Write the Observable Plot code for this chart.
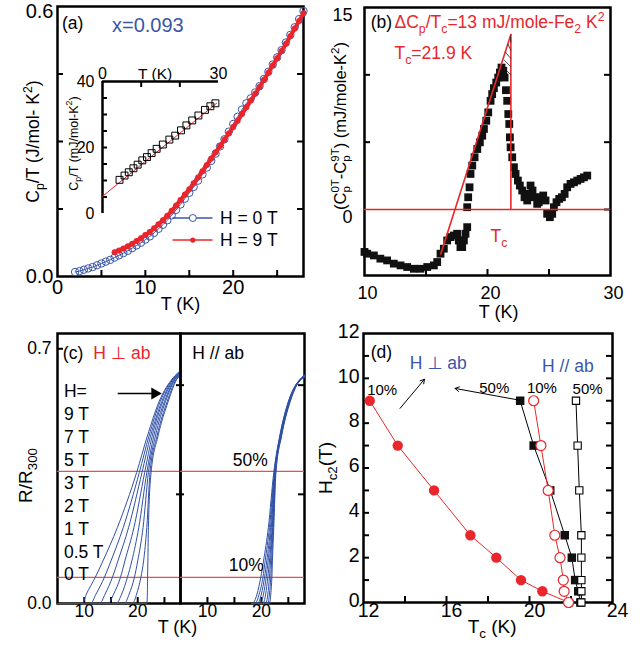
<!DOCTYPE html>
<html><head><meta charset="utf-8">
<script src="https://cdn.jsdelivr.net/npm/d3@7"></script>
<script src="https://cdn.jsdelivr.net/npm/@observablehq/plot@0.6"></script>
<style>
body{margin:0;background:#fff}
#fig{position:relative;width:643px;height:647px;overflow:hidden;background:#fff}
</style>
</head><body><div id="fig"></div>
<script>
// ---------------- DATA ----------------
// (a) C/T vs T, H = 0 T and H = 9 T
const aFields = [0, 9];
const aT0 = [2,2.5,3,3.5,4,4.5,5,5.5,6,6.5,7,7.5,8,8.5,9,9.5,10,10.5,11,11.5,12,12.5,13,13.5,14,14.5,15,15.5,16,16.5,17,17.5,18,18.5,19,19.5,20,20.5,21,21.5,22,22.5,23,23.5,24,24.5,25,25.5,26,26.5,27,27.5,28];
const aC0 = [0.010,0.012,0.015,0.018,0.021,0.025,0.029,0.033,0.037,0.042,0.047,0.052,0.057,0.063,0.069,0.075,0.082,0.089,0.097,0.106,0.115,0.125,0.136,0.148,0.160,0.173,0.186,0.199,0.213,0.227,0.242,0.257,0.273,0.289,0.305,0.322,0.339,0.355,0.371,0.385,0.396,0.409,0.423,0.439,0.455,0.471,0.487,0.503,0.520,0.537,0.554,0.572,0.590];
const aT9 = [6.5,7,7.5,8,8.5,9,9.5,10,10.5,11,11.5,12,12.5,13,13.5,14,14.5,15,15.5,16,16.5,17,17.5,18,18.5,19,19.5,20,20.5,21,21.5,22,22.5,23,23.5,24,24.5,25,25.5,26,26.5,27,27.5,28];
const aC9 = [0.054,0.058,0.062,0.067,0.073,0.079,0.085,0.092,0.099,0.107,0.116,0.125,0.135,0.146,0.158,0.170,0.182,0.194,0.207,0.220,0.234,0.248,0.262,0.276,0.290,0.304,0.318,0.332,0.346,0.361,0.376,0.391,0.406,0.421,0.437,0.453,0.469,0.485,0.501,0.517,0.534,0.551,0.568,0.585];
const aXTicks = [0, 10, 20];
const aYTicks = [0.0, 0.6];
// inset of (a): C/T in mJ/mol-K^2
const inT = [4.4,5.7,6.8,8.0,9.1,10.3,11.5,12.7,14.0,15.6,17.3,18.8,20.3,21.7,23.2,24.8,26.5,27.9,29.2];
const inC = [10.2,11.5,12.5,13.7,14.8,16.1,17.1,18.3,19.6,20.9,22.4,23.6,25.2,26.7,28.2,29.7,31.4,32.5,33.4];
const inFitT = [0, 29.5];
const inFitC = [5.2, 33.4];
const inXTicks = [0, 30];
const inYTicks = [0, 20, 40];

// (b) C(0T)-C(9T)
const bT = [10.0,10.22,10.76,11.29,11.84,12.38,12.93,13.47,14.01,14.55,15.10,15.64,15.91,16.18,16.45,16.72,16.99,17.26,17.53,17.67,17.80,17.94,18.08,18.21,18.35,18.35,18.43,18.54,18.62,18.76,18.95,19.17,19.38,19.57,19.71,19.90,20.06,20.25,20.38,20.52,20.71,20.87,21.01,21.14,21.28,21.39,21.50,21.60,21.69,21.77,21.82,21.88,22.01,22.15,22.28,22.47,22.63,22.82,23.01,23.23,23.36,23.50,23.66,23.82,24.04,24.17,24.31,24.53,24.72,24.85,25.07,25.26,25.40,25.61,25.83,26.05,26.27,26.48,26.75,27.03,27.30,27.57,27.84,28.11];
const bV = [-3.15,-3.28,-3.41,-3.65,-3.78,-4.02,-4.15,-4.27,-4.40,-4.40,-4.27,-4.15,-3.90,-3.28,-2.91,-2.30,-2.05,-1.93,-1.80,-2.30,-2.79,-2.79,-2.30,-1.80,-1.31,0.17,0.91,1.65,2.64,3.26,3.88,4.49,4.99,5.48,5.98,6.59,7.21,8.07,8.57,9.01,9.43,9.80,10.17,10.54,10.30,9.80,8.86,8.07,7.09,6.35,5.36,4.62,3.88,3.14,2.64,2.15,1.78,1.41,0.91,0.67,1.16,1.78,1.41,0.91,0.42,0.54,0.91,1.04,0.67,-0.32,-0.57,-0.32,0.17,0.54,0.79,0.91,1.16,1.65,1.90,2.02,2.15,2.27,2.39,2.52];
const bTc = 21.9;
const bJump = 13.0;
const bSlantT = [16.2, 21.9];
const bSlantV = [-3.3, 13.0];
const bHatch = [12.4, 11.8, 11.2, 10.6, 10.0];
const bXTicks = [10, 20, 30];
const bYTicks = [0, 15];

// (c) R/R300 vs T
const cFields = ["9 T","7 T","5 T","3 T","2 T","1 T","0.5 T","0 T"];
const cR = [0, 0, 0.026, 0.073, 0.117, 0.209, 0.36, 0.46, 0.555, 0.62];
const cPerpT = [
  [5, 9.6, 10.4, 12.1, 13.5, 16.2, 19.8, 21.8, 24.0, 26.6],
  [5, 11.2, 12.2, 13.8, 15.0, 17.3, 20.3, 22.1, 24.2, 26.7],
  [5, 12.9, 13.9, 15.3, 16.3, 18.3, 20.8, 22.4, 24.5, 26.8],
  [5, 14.5, 15.5, 16.8, 17.6, 19.3, 21.3, 22.7, 24.7, 27.0],
  [5, 16.0, 17.0, 18.1, 18.9, 20.2, 21.7, 23.0, 25.0, 27.1],
  [5, 17.5, 18.4, 19.4, 20.0, 21.0, 22.0, 23.3, 25.2, 27.2],
  [5, 19.0, 19.8, 20.6, 21.1, 21.7, 22.3, 23.6, 25.5, 27.4],
  [5, 21.7, 21.8, 21.85, 21.9, 22.0, 22.5, 23.8, 25.7, 27.5]
];
const cPerpEnd = [0.64, 0.638, 0.636, 0.634, 0.632, 0.63, 0.628, 0.626];
const cParT = [
  [18.2, 18.3, 19.2, 19.9, 20.4, 21.3, 22.3, 23.4, 25.0, 27.4],
  [18.2, 18.8, 19.6, 20.3, 20.7, 21.5, 22.4, 23.45, 25.05, 27.45],
  [18.2, 19.3, 20.0, 20.6, 21.0, 21.7, 22.45, 23.5, 25.1, 27.5],
  [18.2, 19.8, 20.4, 20.9, 21.25, 21.85, 22.5, 23.55, 25.15, 27.55],
  [18.2, 20.3, 20.8, 21.2, 21.5, 22.0, 22.55, 23.6, 25.2, 27.6],
  [18.2, 20.8, 21.2, 21.5, 21.7, 22.1, 22.6, 23.65, 25.25, 27.65],
  [18.2, 21.2, 21.5, 21.75, 21.9, 22.2, 22.65, 23.7, 25.3, 27.7],
  [18.2, 21.5, 21.75, 21.95, 22.05, 22.3, 22.7, 23.75, 25.35, 27.75]
];
const cParEnd = [0.628, 0.627, 0.626, 0.625, 0.624, 0.623, 0.622, 0.621];
const cEndT = 28;
const cCriteria = [0.363, 0.072];
const cXTicks = [10, 20];
const cYTicks = [0.0, 0.7];

// (d) Hc2 vs Tc
const dH = [9, 7, 5, 3, 2, 1, 0.5, 0];
const dPerp10 = [12.3, 13.65, 15.4, 17.15, 18.4, 19.59, 20.62, 21.9];
const dPerp50 = [19.55, 20.2, 21.0, 21.7, 22.04, 22.2, 22.35, 22.45];
const dPar10 = [20.2, 20.55, 20.9, 21.22, 21.47, 21.63, 21.67, 21.88];
const dPar50 = [22.24, 22.32, 22.4, 22.5, 22.5, 22.5, 22.5, 22.5];
const dXTicks = [12, 16, 20, 24];
const dYTicks = [0, 2, 4, 6, 8, 10, 12];

// ---------------- DRAWING ----------------
const FONT = "'Liberation Sans', Arial, 'DejaVu Sans', sans-serif";
const RED = "#e8262b", BLUE = "#3a56a8", CBLUE = "#2f50a6", LRED = "#f04c4c", INK = "#111";
const fig = document.getElementById("fig");

function rich(svg) {
  const NS = "http://www.w3.org/2000/svg";
  svg.querySelectorAll("text").forEach(t => {
    const s = t.textContent;
    if (!/[_^]\{/.test(s)) return;
    let F = 16, el = t;
    while (el && el.getAttribute) { const fs = el.getAttribute("font-size"); if (fs) { F = parseFloat(fs); break; } el = el.parentNode; }
    while (t.firstChild) t.removeChild(t.firstChild);
    const re = /([_^])\{([^}]*)\}|([^_^]+)/g;
    let m, cur = 0, prevKind = null, prevEl = null;
    while ((m = re.exec(s))) {
      const ts = document.createElementNS(NS, "tspan");
      let target = 0, txt;
      if (m[1]) { txt = m[2]; target = m[1] === "_" ? 0.28 * F : -0.42 * F; ts.setAttribute("font-size", (0.7 * F).toFixed(1)); }
      else txt = m[3];
      const d = target - cur;
      if (Math.abs(d) > 1e-6) ts.setAttribute("dy", d.toFixed(2));
      cur = target;
      ts.textContent = txt;
      t.appendChild(ts);
      if (m[1] === "^" && prevKind === "_") {
        const w = prevEl.getComputedTextLength();
        if (w > 0 && w < F) ts.setAttribute("dx", (-w).toFixed(2));
      }
      prevKind = m[1] || "n"; prevEl = ts;
    }
  });
}
function panel(o) {
  const svg = Plot.plot({
    width: o.width, height: o.height,
    marginLeft: o.mL, marginRight: o.mR, marginTop: o.mT, marginBottom: o.mB,
    x: {domain: o.xd, axis: null}, y: {domain: o.yd, axis: null},
    style: {fontFamily: FONT, background: "transparent", overflow: "visible", color: "black"},
    marks: o.marks
  });
  svg.style.position = "absolute"; svg.style.left = o.left + "px"; svg.style.top = o.top + "px";
  fig.appendChild(svg);
  rich(svg);
  return svg;
}
const TW = 2;
const tB = (v, fh, L = 6) => Plot.ruleX(v, {x: d => d, insetTop: fh - L, stroke: "black", strokeWidth: TW});
const tT = (v, fh, L = 6) => Plot.ruleX(v, {x: d => d, insetBottom: fh - L, stroke: "black", strokeWidth: TW});
const tL = (v, fw, L = 6) => Plot.ruleY(v, {y: d => d, insetRight: fw - L, stroke: "black", strokeWidth: TW});
const tR = (v, fw, L = 6) => Plot.ruleY(v, {y: d => d, insetLeft: fw - L, stroke: "black", strokeWidth: TW});
const frame = () => Plot.frame({stroke: "black", strokeWidth: 2.5});
const T = d => d;

// ---- (a) ----
const a0 = aT0.map((t, i) => ({T: t, C: aC0[i]}));
const a9 = aT9.map((t, i) => ({T: t, C: aC9[i]}));
panel({left: 0, top: 0, width: 320, height: 320, mL: 57, mR: 17, mT: 6, mB: 44, xd: [0, 28], yd: [0, 0.6], marks: [
  frame(),
  tB([5, 10, 15, 20, 25], 270), tL([0.15, 0.3, 0.45], 246), tR([0.15, 0.3, 0.45], 246),
  Plot.text(aXTicks, {x: d => d, text: d => String(d), frameAnchor: "bottom", dy: 17, fontSize: 20}),
  Plot.text([aYTicks[0]], {y: d => d, text: d => d.toFixed(1), frameAnchor: "left", textAnchor: "end", dx: -4, fontSize: 20}),
  Plot.text([aYTicks[1]], {y: d => d, text: d => d.toFixed(1), frameAnchor: "left", textAnchor: "end", dx: -4, dy: 5, fontSize: 20}),
  Plot.text(["T (K)"], {text: T, frameAnchor: "bottom", dy: 33, fontSize: 18}),
  Plot.text(["C_{p}/T (J/mol- K^{2})"], {text: T, frameAnchor: "left", textAnchor: "middle", dx: -24, rotate: -90, fontSize: 17.5}),
  Plot.line(a0, {x: "T", y: "C", stroke: BLUE, strokeWidth: 1}),
  Plot.dot(a0, {x: "T", y: "C", r: 3.7, stroke: BLUE, strokeWidth: 1, fill: "none"}),
  Plot.line(a9, {x: "T", y: "C", stroke: RED, strokeWidth: 4}),
  Plot.dot(a9, {x: "T", y: "C", r: 3, fill: RED}),
  Plot.ruleY([0.130], {x1: 13.15, x2: 17.7, stroke: BLUE, strokeWidth: 1.3}),
  Plot.dot([0], {x: 15.4, y: 0.130, r: 3.5, stroke: BLUE, fill: "white", strokeWidth: 1}),
  Plot.ruleY([0.081], {x1: 13.15, x2: 17.7, stroke: RED, strokeWidth: 1.6}),
  Plot.dot([0], {x: 15.4, y: 0.081, r: 2.6, fill: RED}),
  Plot.text([aFields[0]], {x: 18.5, y: 0.130, text: d => `H = ${d} T`, textAnchor: "start", fontSize: 17.5}),
  Plot.text([aFields[1]], {x: 18.5, y: 0.081, text: d => `H = ${d} T`, textAnchor: "start", fontSize: 17.5}),
  Plot.text(["(a)"], {x: 0.5, y: 0.563, text: T, textAnchor: "start", fontSize: 17.5}),
  Plot.text(["x=0.093"], {x: 6.2, y: 0.557, text: T, textAnchor: "start", fontSize: 20, fill: BLUE})
]});
// inset
const ins = inT.map((t, i) => ({T: t, C: inC[i]}));
const insFit = inFitT.map((t, i) => ({T: t, C: inFitC[i]}));
panel({left: 0, top: 0, width: 320, height: 320, mL: 102, mR: 102, mT: 81, mB: 107, xd: [0, 30], yd: [0, 40], marks: [
  Plot.ruleX([0], {stroke: "black", strokeWidth: 2.5}),
  Plot.ruleY([40], {stroke: "black", strokeWidth: 2.5}),
  tT([10, 20], 132, 6), tL([5, 10, 15, 20, 25, 30, 35], 116, 5),
  Plot.text(inXTicks, {x: d => d, text: d => String(d), frameAnchor: "top", dy: -14, fontSize: 16}),
  Plot.text(["T (K)"], {x: 13.6, text: T, frameAnchor: "top", dy: -14, fontSize: 15.5}),
  Plot.text(inYTicks, {y: d => d, text: d => String(d), frameAnchor: "left", textAnchor: "end", dx: -8, fontSize: 16}),
  Plot.text(["C_{p}/T (mJ/mol-K^{2})"], {text: T, frameAnchor: "left", textAnchor: "middle", dx: -29, dy: -4, rotate: -90, fontSize: 12.5}),
  Plot.line(insFit, {x: "T", y: "C", stroke: RED, strokeWidth: 1}),
  Plot.dot(ins, {x: "T", y: "C", symbol: "square", r: 3.9, stroke: "black", strokeWidth: 1, fill: "none"})
]});

// ---- (b) ----
const bData = bT.map((t, i) => ({T: t, v: bV[i]}));
const bSlant = bSlantT.map((t, i) => ({T: t, v: bSlantV[i]}));
const slantAt = v => bSlantT[0] + (v - bSlantV[0]) * (bSlantT[1] - bSlantT[0]) / (bSlantV[1] - bSlantV[0]);
panel({left: 320, top: 0, width: 323, height: 320, mL: 44, mR: 33, mT: 7, mB: 45, xd: [10, 30], yd: [-4.9, 15], marks: [
  frame(),
  tB([15, 20, 25], 268), tL([5, 10], 246), tR([0, 5, 10], 246),
  Plot.text(bXTicks, {x: d => d, text: d => String(d), frameAnchor: "bottom", dy: 23, dx: 3, fontSize: 18}),
  Plot.text(bYTicks, {y: d => d, text: d => String(d), frameAnchor: "left", textAnchor: "end", dx: -12, dy: 8, fontSize: 18}),
  Plot.text(["T (K)"], {x: 20.9, text: T, frameAnchor: "bottom", dy: 42, fontSize: 18}),
  Plot.text(["(C_{p}^{0T}-C_{p}^{9T}) (mJ/mole-K^{2})"], {y: 6.2, text: T, frameAnchor: "left", textAnchor: "middle", dx: -24, rotate: -90, fontSize: 16.5}),
  Plot.dot(bData, {x: "T", y: "v", symbol: "square", r: 4.4, fill: INK}),
  Plot.ruleY([0], {stroke: RED, strokeWidth: 1.5}),
  Plot.line(bSlant, {x: "T", y: "v", stroke: RED, strokeWidth: 1.6}),
  Plot.ruleX([bTc], {y1: 0, y2: bJump, stroke: RED, strokeWidth: 1.6}),
  Plot.link(bHatch, {x1: h => Math.max(slantAt(h + 0.5), 21.35), y1: h => h + 0.5, x2: bTc, y2: h => h, stroke: "#222", strokeWidth: 0.8}),
  Plot.text(["(b)"], {x: 10.5, y: 13.87, text: T, textAnchor: "start", fontSize: 17.5}),
  Plot.text([bJump], {x: 12.44, y: 13.87, text: d => `ΔC_{p}/T_{c}=${d} mJ/mole-Fe_{2} K^{2}`, textAnchor: "start", fontSize: 17.5, fill: RED}),
  Plot.text([bTc], {x: 12.44, y: 11.6, text: d => `T_{c}=${d} K`, textAnchor: "start", fontSize: 17.5, fill: RED}),
  Plot.text(["T_{c}"], {x: 20.24, y: -2.0, text: T, textAnchor: "start", fontSize: 17.5, fill: RED})
]});

// ---- (c) ----
const cPerp = [], cPar = [];
cFields.forEach((f, i) => {
  cPerpT[i].forEach((t, j) => cPerp.push({f, T: t, R: cR[j]}));
  cPerp.push({f, T: cEndT, R: cPerpEnd[i]});
  cParT[i].forEach((t, j) => cPar.push({f, T: t, R: cR[j]}));
  cPar.push({f, T: cEndT, R: cParEnd[i]});
});
const cCommon = {width: 320, height: 327, mT: 13, mB: 44, xd: [5, 28], yd: [0, 0.742], left: 0, top: 320};
panel({...cCommon, mL: 57, mR: 140, marks: [
  frame(),
  tB([10, 15, 20, 25], 270), tL([0.7], 123), tR([0.3, 0.6], 123, 4),
  Plot.text(cXTicks, {x: d => d, text: d => String(d), frameAnchor: "bottom", dy: 13, fontSize: 17.5}),
  Plot.text(cYTicks, {y: d => d, text: d => d.toFixed(1), frameAnchor: "left", textAnchor: "end", dx: -6, fontSize: 17.5}),
  Plot.text(["T (K)"], {text: T, frameAnchor: "bottom-right", textAnchor: "middle", dx: -3, dy: 29, fontSize: 18}),
  Plot.text(["R/R_{300}"], {text: T, frameAnchor: "left", textAnchor: "middle", dx: -32, dy: 7, rotate: -90, fontSize: 19}),
  Plot.ruleY(cCriteria, {stroke: LRED, strokeWidth: 1.2}),
  Plot.line(cPerp, {x: "T", y: "R", z: "f", stroke: CBLUE, strokeWidth: 1, curve: "monotone-x"}),
  Plot.text(["(c)"], {x: 6.0, y: 0.687, text: T, textAnchor: "start", fontSize: 17.5}),
  Plot.text(["H ⊥ ab"], {x: 11.7, y: 0.687, text: T, textAnchor: "start", fontSize: 17.5, fill: RED}),
  Plot.text([cFields], {x: 6.2, y: 0.612, text: d => "H=\n" + d.join("\n"), textAnchor: "start", lineAnchor: "top", lineHeight: 1.31, fontSize: 17.5}),
  Plot.ruleY([0.577], {x1: 16.35, x2: 22.8, stroke: "black", strokeWidth: 1.5}),
  Plot.dot([0.577], {x: 23.2, y: d => d, symbol: "triangle", rotate: 90, r: 4.5, fill: "black"})
]});
panel({...cCommon, mL: 180, mR: 16, marks: [
  frame(),
  tB([10, 15, 20, 25], 270), tL([0.3, 0.6], 124, 4), tR([0.3, 0.6], 124),
  Plot.text(cXTicks, {x: d => d, text: d => String(d), frameAnchor: "bottom", dy: 13, fontSize: 17.5}),
  Plot.ruleY(cCriteria, {stroke: LRED, strokeWidth: 1.2}),
  Plot.line(cPar, {x: "T", y: "R", z: "f", stroke: CBLUE, strokeWidth: 1, curve: "monotone-x"}),
  Plot.text(["H // ab"], {x: 7.2, y: 0.687, text: T, textAnchor: "start", fontSize: 17.5}),
  Plot.text(["50%"], {x: 17.96, y: 0.393, text: T, fontSize: 17.5}),
  Plot.text(["10%"], {x: 17.2, y: 0.104, text: T, fontSize: 17.5})
]});

// ---- (d) ----
const dRow = arr => arr.map((t, i) => ({T: t, H: dH[i]}));
const dp10 = dRow(dPerp10), dp50 = dRow(dPerp50), dq10 = dRow(dPar10), dq50 = dRow(dPar50);
panel({left: 320, top: 320, width: 323, height: 327, mL: 43, mR: 31, mT: 13, mB: 45, xd: [12, 24], yd: [0, 12], marks: [
  frame(),
  tB([14, 16, 18, 20, 22], 269), tL([1,2,3,4,5,6,7,8,9,10,11], 249), tR([1,2,3,4,5,6,7,8,9,10,11], 249),
  Plot.text(dXTicks, {x: d => d, text: d => String(d), frameAnchor: "bottom", dy: 14, dx: 5, fontSize: 19.5}),
  Plot.text(dYTicks, {y: d => d, text: d => String(d), frameAnchor: "left", textAnchor: "end", dx: -4, dy: -2, fontSize: 19.5}),
  Plot.text(["T_{c} (K)"], {x: 18.2, text: T, frameAnchor: "bottom", dy: 30, fontSize: 19}),
  Plot.text(["H_{c2}(T)"], {text: T, frameAnchor: "left", textAnchor: "middle", dx: -38, rotate: -90, fontSize: 19}),
  Plot.line(dp10, {x: "T", y: "H", stroke: RED, strokeWidth: 1}),
  Plot.line(dp50, {x: "T", y: "H", stroke: "black", strokeWidth: 1}),
  Plot.line(dq10, {x: "T", y: "H", stroke: RED, strokeWidth: 1}),
  Plot.line(dq50, {x: "T", y: "H", stroke: "black", strokeWidth: 1}),
  Plot.dot(dp10, {x: "T", y: "H", r: 5.2, fill: RED}),
  Plot.dot(dp50, {x: "T", y: "H", symbol: "square", r: 4.8, fill: INK}),
  Plot.dot(dq10, {x: "T", y: "H", r: 5, stroke: RED, strokeWidth: 1.2, fill: "white"}),
  Plot.dot(dq50, {x: "T", y: "H", symbol: "square", r: 4.1, stroke: "black", strokeWidth: 1.1, fill: "white"}),
  Plot.text(["(d)"], {x: 12.35, y: 11.16, text: T, textAnchor: "start", fontSize: 17.5}),
  Plot.text(["H ⊥ ab"], {x: 15.6, y: 10.67, text: T, fontSize: 17.5, fill: BLUE}),
  Plot.text(["H // ab"], {x: 21.85, y: 10.54, text: T, fontSize: 17.5, fill: BLUE}),
  Plot.text(["10%"], {x: 12.9, y: 9.46, text: T, fontSize: 15}),
  Plot.text(["50%"], {x: 18.3, y: 9.55, text: T, fontSize: 15}),
  Plot.text(["10%"], {x: 20.6, y: 9.55, text: T, fontSize: 15}),
  Plot.text(["50%"], {x: 22.8, y: 9.5, text: T, fontSize: 15}),
  Plot.arrow([0], {x1: 13.76, y1: 8.66, x2: 14.94, y2: 9.96, stroke: "black", strokeWidth: 1, headLength: 7}),
  Plot.arrow([0], {x1: 19.55, y1: 9.02, x2: 16.41, y2: 9.55, stroke: "black", strokeWidth: 1, headLength: 7})
]});
</script>
</body></html>
